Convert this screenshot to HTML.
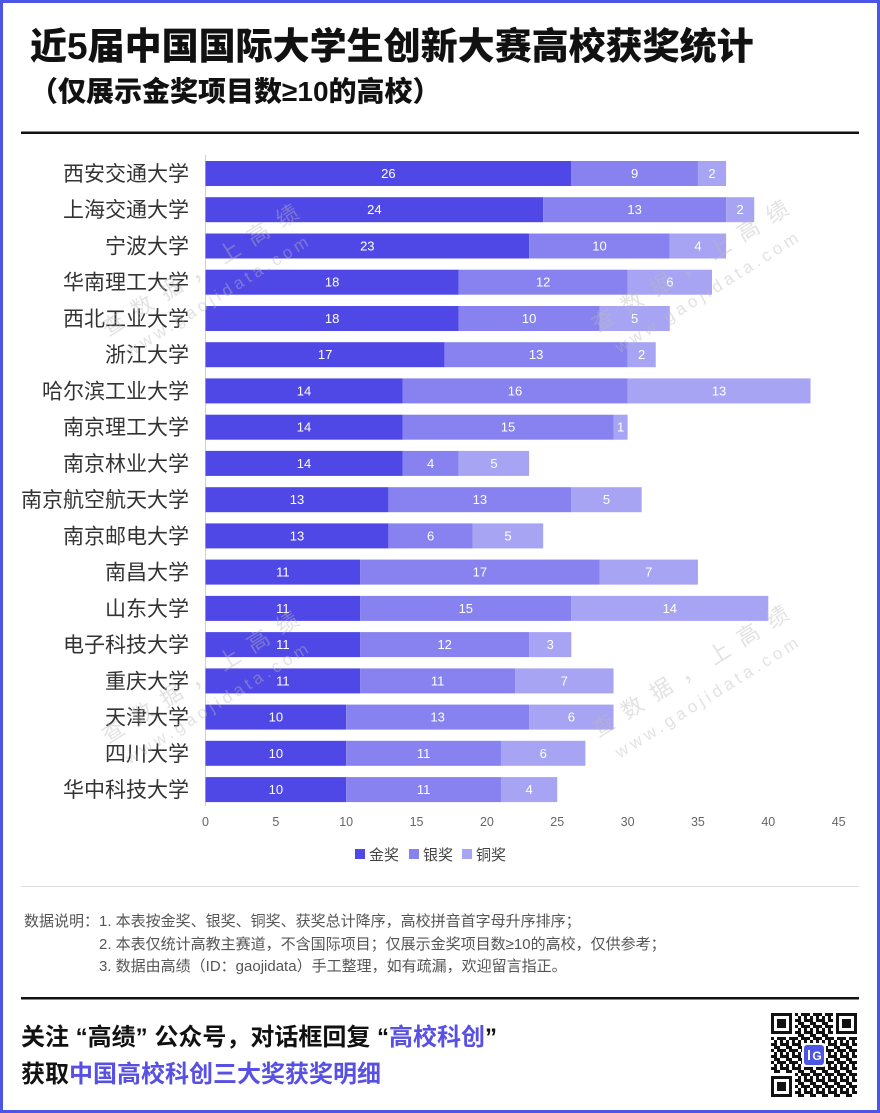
<!DOCTYPE html>
<html><head><meta charset="utf-8">
<style>
html,body{margin:0;padding:0;background:#fff;width:880px;height:1113px;overflow:hidden}
svg{display:block}
.cjk{font-family:"Liberation Sans","Noto Sans CJK SC",sans-serif}
.num{font-family:"Liberation Sans",sans-serif}
</style></head>
<body>
<svg width="880" height="1113" viewBox="0 0 880 1113" xmlns="http://www.w3.org/2000/svg">
<defs>
<pattern id="qr" x="771" y="1013" width="12" height="12" patternUnits="userSpaceOnUse">
<rect x="0" y="0" width="3" height="3" fill="#111"/><rect x="6" y="0" width="6" height="3" fill="#111"/>
<rect x="3" y="3" width="3" height="3" fill="#111"/><rect x="9" y="3" width="3" height="3" fill="#111"/>
<rect x="0" y="6" width="6" height="3" fill="#111"/><rect x="9" y="6" width="3" height="3" fill="#111"/>
<rect x="3" y="9" width="3" height="3" fill="#111"/><rect x="6" y="9" width="3" height="3" fill="#111"/>
</pattern>
</defs>
<rect x="0" y="0" width="880" height="1113" fill="#fff"/>

<!-- title -->
<text x="30" y="59" class="cjk" font-size="37" font-weight="900" fill="#111">近5届中国国际大学生创新大赛高校获奖统计</text>
<text x="30" y="101" class="cjk" font-size="28" font-weight="900" fill="#111">（仅展示金奖项目数≥10的高校）</text>
<rect x="21" y="131.5" width="838" height="2.5" fill="#111"/>

<!-- axis -->
<line x1="205.5" y1="155" x2="205.5" y2="806" stroke="#d0d0d0" stroke-width="1"/>

<g class="cjk" font-size="21" fill="#333" text-anchor="end">
<text x="189" y="181">西安交通大学</text>
<text x="189" y="217.2">上海交通大学</text>
<text x="189" y="253.5">宁波大学</text>
<text x="189" y="289.7">华南理工大学</text>
<text x="189" y="326">西北工业大学</text>
<text x="189" y="362.2">浙江大学</text>
<text x="189" y="398.4">哈尔滨工业大学</text>
<text x="189" y="434.7">南京理工大学</text>
<text x="189" y="470.9">南京林业大学</text>
<text x="189" y="507.2">南京航空航天大学</text>
<text x="189" y="543.4">南京邮电大学</text>
<text x="189" y="579.6">南昌大学</text>
<text x="189" y="615.9">山东大学</text>
<text x="189" y="652.1">电子科技大学</text>
<text x="189" y="688.4">重庆大学</text>
<text x="189" y="724.6">天津大学</text>
<text x="189" y="760.8">四川大学</text>
<text x="189" y="797.1">华中科技大学</text>
</g>

<!-- gold -->
<g fill="#5048E6">
<rect x="205.5" y="161" width="365.82" height="25"/>
<rect x="205.5" y="197.2" width="337.68" height="25"/>
<rect x="205.5" y="233.5" width="323.61" height="25"/>
<rect x="205.5" y="269.7" width="253.26" height="25"/>
<rect x="205.5" y="306" width="253.26" height="25"/>
<rect x="205.5" y="342.2" width="239.19" height="25"/>
<rect x="205.5" y="378.4" width="196.98" height="25"/>
<rect x="205.5" y="414.7" width="196.98" height="25"/>
<rect x="205.5" y="450.9" width="196.98" height="25"/>
<rect x="205.5" y="487.2" width="182.91" height="25"/>
<rect x="205.5" y="523.4" width="182.91" height="25"/>
<rect x="205.5" y="559.6" width="154.77" height="25"/>
<rect x="205.5" y="595.9" width="154.77" height="25"/>
<rect x="205.5" y="632.1" width="154.77" height="25"/>
<rect x="205.5" y="668.4" width="154.77" height="25"/>
<rect x="205.5" y="704.6" width="140.7" height="25"/>
<rect x="205.5" y="740.8" width="140.7" height="25"/>
<rect x="205.5" y="777.1" width="140.7" height="25"/>
</g>
<!-- silver -->
<g fill="#8782EF">
<rect x="571.32" y="161" width="126.63" height="25"/>
<rect x="543.18" y="197.2" width="182.91" height="25"/>
<rect x="529.11" y="233.5" width="140.7" height="25"/>
<rect x="458.76" y="269.7" width="168.84" height="25"/>
<rect x="458.76" y="306" width="140.7" height="25"/>
<rect x="444.69" y="342.2" width="182.91" height="25"/>
<rect x="402.48" y="378.4" width="225.12" height="25"/>
<rect x="402.48" y="414.7" width="211.05" height="25"/>
<rect x="402.48" y="450.9" width="56.28" height="25"/>
<rect x="388.41" y="487.2" width="182.91" height="25"/>
<rect x="388.41" y="523.4" width="84.42" height="25"/>
<rect x="360.27" y="559.6" width="239.19" height="25"/>
<rect x="360.27" y="595.9" width="211.05" height="25"/>
<rect x="360.27" y="632.1" width="168.84" height="25"/>
<rect x="360.27" y="668.4" width="154.77" height="25"/>
<rect x="346.2" y="704.6" width="182.91" height="25"/>
<rect x="346.2" y="740.8" width="154.77" height="25"/>
<rect x="346.2" y="777.1" width="154.77" height="25"/>
</g>
<!-- bronze -->
<g fill="#A8A4F4">
<rect x="697.95" y="161" width="28.14" height="25"/>
<rect x="726.09" y="197.2" width="28.14" height="25"/>
<rect x="669.81" y="233.5" width="56.28" height="25"/>
<rect x="627.6" y="269.7" width="84.42" height="25"/>
<rect x="599.46" y="306" width="70.35" height="25"/>
<rect x="627.6" y="342.2" width="28.14" height="25"/>
<rect x="627.6" y="378.4" width="182.91" height="25"/>
<rect x="613.53" y="414.7" width="14.07" height="25"/>
<rect x="458.76" y="450.9" width="70.35" height="25"/>
<rect x="571.32" y="487.2" width="70.35" height="25"/>
<rect x="472.83" y="523.4" width="70.35" height="25"/>
<rect x="599.46" y="559.6" width="98.49" height="25"/>
<rect x="571.32" y="595.9" width="196.98" height="25"/>
<rect x="529.11" y="632.1" width="42.21" height="25"/>
<rect x="515.04" y="668.4" width="98.49" height="25"/>
<rect x="529.11" y="704.6" width="84.42" height="25"/>
<rect x="500.97" y="740.8" width="84.42" height="25"/>
<rect x="500.97" y="777.1" width="56.28" height="25"/>
</g>

<!-- value labels -->
<g class="num" font-size="13" fill="#fff" text-anchor="middle">
<text x="388.41" y="178">26</text><text x="634.64" y="178">9</text><text x="712.02" y="178">2</text>
<text x="374.34" y="214.2">24</text><text x="634.64" y="214.2">13</text><text x="740.16" y="214.2">2</text>
<text x="367.3" y="250.5">23</text><text x="599.46" y="250.5">10</text><text x="697.95" y="250.5">4</text>
<text x="332.13" y="286.7">18</text><text x="543.18" y="286.7">12</text><text x="669.81" y="286.7">6</text>
<text x="332.13" y="323">18</text><text x="529.11" y="323">10</text><text x="634.64" y="323">5</text>
<text x="325.1" y="359.2">17</text><text x="536.15" y="359.2">13</text><text x="641.67" y="359.2">2</text>
<text x="303.99" y="395.4">14</text><text x="515.04" y="395.4">16</text><text x="719.06" y="395.4">13</text>
<text x="303.99" y="431.7">14</text><text x="508" y="431.7">15</text><text x="620.57" y="431.7">1</text>
<text x="303.99" y="467.9">14</text><text x="430.62" y="467.9">4</text><text x="493.94" y="467.9">5</text>
<text x="296.96" y="504.2">13</text><text x="479.87" y="504.2">13</text><text x="606.5" y="504.2">5</text>
<text x="296.96" y="540.4">13</text><text x="430.62" y="540.4">6</text><text x="508" y="540.4">5</text>
<text x="282.89" y="576.6">11</text><text x="479.87" y="576.6">17</text><text x="648.71" y="576.6">7</text>
<text x="282.89" y="612.9">11</text><text x="465.8" y="612.9">15</text><text x="669.81" y="612.9">14</text>
<text x="282.89" y="649.1">11</text><text x="444.69" y="649.1">12</text><text x="550.2" y="649.1">3</text>
<text x="282.89" y="685.4">11</text><text x="437.66" y="685.4">11</text><text x="564.3" y="685.4">7</text>
<text x="275.85" y="721.6">10</text><text x="437.66" y="721.6">13</text><text x="571.32" y="721.6">6</text>
<text x="275.85" y="757.8">10</text><text x="423.59" y="757.8">11</text><text x="543.18" y="757.8">6</text>
<text x="275.85" y="794.1">10</text><text x="423.59" y="794.1">11</text><text x="529.11" y="794.1">4</text>
</g>

<!-- ticks -->
<g class="num" font-size="12.5" fill="#666" text-anchor="middle">
<text x="205.5" y="826">0</text><text x="275.85" y="826">5</text><text x="346.2" y="826">10</text>
<text x="416.55" y="826">15</text><text x="486.9" y="826">20</text><text x="557.25" y="826">25</text>
<text x="627.6" y="826">30</text><text x="697.95" y="826">35</text><text x="768.3" y="826">40</text>
<text x="838.65" y="826">45</text>
</g>

<!-- legend -->
<rect x="355" y="849" width="10" height="10" fill="#5048E6"/>
<text x="369" y="860" class="cjk" font-size="15" fill="#444">金奖</text>
<rect x="409" y="849" width="10" height="10" fill="#8782EF"/>
<text x="423" y="860" class="cjk" font-size="15" fill="#444">银奖</text>
<rect x="462" y="849" width="10" height="10" fill="#A8A4F4"/>
<text x="476" y="860" class="cjk" font-size="15" fill="#444">铜奖</text>

<!-- watermarks -->
<g class="cjk" fill="#bbb" fill-opacity="0.42">
<g transform="translate(200,270) rotate(-32)">
<text x="0" y="8" font-size="22" text-anchor="middle" textLength="227" lengthAdjust="spacing">查数据，上高绩</text>
<text x="0" y="37" font-size="17" text-anchor="middle" textLength="212" lengthAdjust="spacing">www.gaojidata.com</text>
</g>
<g transform="translate(690,266) rotate(-32)">
<text x="0" y="8" font-size="22" text-anchor="middle" textLength="227" lengthAdjust="spacing">查数据，上高绩</text>
<text x="0" y="37" font-size="17" text-anchor="middle" textLength="212" lengthAdjust="spacing">www.gaojidata.com</text>
</g>
<g transform="translate(200,677) rotate(-32)">
<text x="0" y="8" font-size="22" text-anchor="middle" textLength="227" lengthAdjust="spacing">查数据，上高绩</text>
<text x="0" y="37" font-size="17" text-anchor="middle" textLength="212" lengthAdjust="spacing">www.gaojidata.com</text>
</g>
<g transform="translate(690,671) rotate(-32)">
<text x="0" y="8" font-size="22" text-anchor="middle" textLength="227" lengthAdjust="spacing">查数据，上高绩</text>
<text x="0" y="37" font-size="17" text-anchor="middle" textLength="212" lengthAdjust="spacing">www.gaojidata.com</text>
</g>
</g>

<!-- notes -->
<line x1="21" y1="886.5" x2="859" y2="886.5" stroke="#dcdcdc" stroke-width="1"/>
<g class="cjk" font-size="15" fill="#555">
<text x="24" y="926">数据说明：1. 本表按金奖、银奖、铜奖、获奖总计降序，高校拼音首字母升序排序；</text>
<text x="99" y="949">2. 本表仅统计高教主赛道，不含国际项目；仅展示金奖项目数≥10的高校，仅供参考；</text>
<text x="99" y="971">3. 数据由高绩（ID：gaojidata）手工整理，如有疏漏，欢迎留言指正。</text>
</g>

<rect x="21" y="997" width="838" height="2.5" fill="#111"/>

<!-- footer -->
<text x="21" y="1045" class="cjk" font-size="24" font-weight="700" fill="#111">关注 “高绩” 公众号，对话框回复 “<tspan fill="#5850E2">高校科创</tspan>”</text>
<text x="21" y="1082" class="cjk" font-size="24" font-weight="700" fill="#111">获取<tspan fill="#5850E2">中国高校科创三大奖获奖明细</tspan></text>

<!-- QR -->
<rect x="771" y="1013" width="86" height="84" fill="url(#qr)"/>
<g>
<rect x="771" y="1013" width="24" height="24" fill="#fff"/>
<rect x="771" y="1013" width="21" height="21" fill="#111"/><rect x="774" y="1016" width="15" height="15" fill="#fff"/><rect x="777" y="1019" width="9" height="9" fill="#111"/>
<rect x="833" y="1013" width="24" height="24" fill="#fff"/>
<rect x="836" y="1013" width="21" height="21" fill="#111"/><rect x="839" y="1016" width="15" height="15" fill="#fff"/><rect x="842" y="1019" width="9" height="9" fill="#111"/>
<rect x="771" y="1073" width="24" height="24" fill="#fff"/>
<rect x="771" y="1076" width="21" height="21" fill="#111"/><rect x="774" y="1079" width="15" height="15" fill="#fff"/><rect x="777" y="1082" width="9" height="9" fill="#111"/>
<rect x="802" y="1043" width="24" height="24" rx="3" fill="#fff"/>
<rect x="804" y="1045" width="20" height="20" rx="3" fill="#4B55E6"/>
<rect x="808" y="1050" width="2" height="10" fill="#fff"/>
<text x="817" y="1060" class="num" font-size="12" font-weight="700" fill="#fff" text-anchor="middle">G</text>
</g>

<!-- frame -->
<rect x="1.5" y="1.5" width="877" height="1110" fill="none" stroke="#4B55E6" stroke-width="3"/>
</svg>
</body></html>
